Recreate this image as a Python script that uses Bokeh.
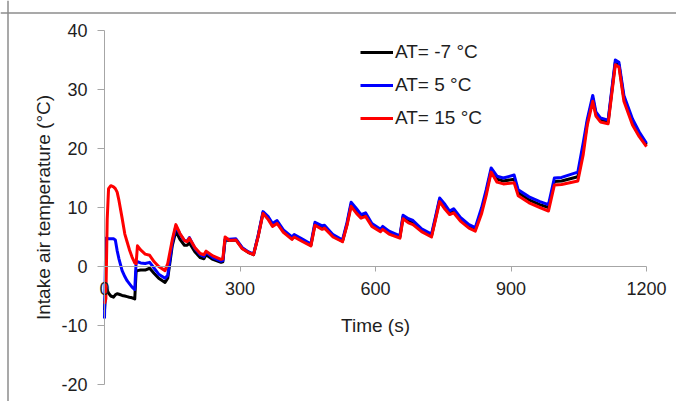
from bokeh.plotting import figure
from bokeh.models import Range1d, FixedTicker, Span
from bokeh.embed import file_html
from bokeh.resources import INLINE

time_s = [0, 3, 6, 9, 14, 20, 24, 28, 32, 39, 45, 50, 55, 61, 67, 70, 73,
          80, 90, 100, 110, 120, 134, 140, 150,
          158, 167, 177, 183, 188, 200, 212, 220, 225, 240, 258, 262, 267, 277, 291, 305, 318, 330, 340, 351,
          363, 372, 382, 396, 415, 420, 439, 457, 466, 482, 487, 506, 527, 537, 546, 558, 568, 578, 592, 611,
          616, 630, 654, 661, 673, 683, 702, 724, 733, 742, 754, 764, 773, 788, 807, 821, 835, 845, 856, 869,
          883, 907, 916, 940, 964, 983, 996, 1012, 1048, 1060, 1069, 1081, 1088, 1098, 1115, 1131, 1139, 1150, 1169, 1184,
          1200]

at_minus7 = [-7.4, -3.6, -4.0, -4.5, -5.0, -5.2, -4.8, -4.6, -4.7, -4.9, -5.0, -5.1, -5.2, -5.3, -5.5, -0.8, -0.7,
             -0.6, -0.6, -0.3, -1.2, -2.0, -2.7, -2.0, 3.5,
             6.0, 4.6, 3.6, 3.6, 4.0, 2.5, 1.5, 1.3, 2.0, 1.2, 0.7, 0.8, 4.5, 4.4, 4.5, 3.1, 2.4, 2.0, 5.1, 9.1,
             8.1, 7.0, 7.5, 6.0, 4.8, 5.2, 4.4, 3.6, 7.2, 6.6, 6.7, 5.2, 4.3, 7.2, 10.5, 9.4, 8.5, 8.8, 7.0, 6.1,
             6.5, 5.7, 5.0, 8.4, 7.7, 7.4, 6.1, 5.2, 8.2, 11.3, 10.1, 9.1, 9.4, 8.0, 6.8, 6.3, 9.5, 12.5, 16.3, 14.8,
             14.5, 14.8, 12.5, 11.3, 10.5, 10.0, 14.4, 14.5, 15.2, 20.0, 24.5, 28.5, 25.8, 24.8, 24.5, 34.6, 34.2, 28.5, 24.5, 22.4,
             20.6]

at_5 = [-8.8, 4.8, 4.8, 4.7, 4.7, 4.7, 4.5, 2.7, 1.3, -0.7, -1.7, -2.4, -2.9, -3.5, -3.9, 0.7, 0.8,
        0.6, 0.5, 0.7, -0.3, -1.3, -2.0, -1.5, 4.0,
        6.8, 5.5, 4.4, 4.3, 4.9, 3.1, 2.0, 1.7, 2.4, 1.5, 0.9, 1.0, 4.6, 4.6, 4.7, 3.2, 2.5, 2.1, 5.2, 9.3,
        8.4, 7.3, 7.8, 6.2, 5.0, 5.4, 4.6, 3.8, 7.5, 6.9, 7.0, 5.4, 4.5, 7.5, 10.9, 9.8, 8.8, 9.1, 7.3, 6.3,
        6.8, 6.0, 5.2, 8.7, 8.1, 7.8, 6.4, 5.5, 8.5, 11.6, 10.5, 9.4, 9.8, 8.3, 7.1, 6.6, 10.0, 13.0, 16.7, 15.3,
        15.0, 15.5, 13.0, 11.8, 11.0, 10.5, 15.0, 15.1, 16.0, 21.0, 25.0, 29.0, 26.2, 25.2, 24.8, 35.0, 34.6, 29.0, 25.0, 22.8,
        20.9]

at_15 = [-6.3, -5.5, 8.0, 13.2, 13.7, 13.5, 13.2, 12.6, 11.2, 8.2, 5.5, 4.2, 2.9, 1.6, 0.6, 0.5, 3.5,
         2.8, 2.1, 1.9, 0.8, 0.0, -0.7, 0.5, 4.5,
         7.1, 5.6, 4.4, 4.2, 4.8, 3.2, 2.2, 2.0, 2.6, 1.8, 1.2, 1.3, 5.0, 4.4, 4.5, 3.0, 2.4, 2.0, 5.0, 9.0,
         7.9, 6.8, 7.3, 5.8, 4.6, 5.0, 4.2, 3.5, 7.0, 6.3, 6.5, 5.0, 4.2, 7.0, 10.2, 9.0, 8.2, 8.5, 6.8, 5.9,
         6.3, 5.5, 4.8, 8.1, 7.4, 7.1, 5.9, 5.0, 8.0, 11.0, 9.7, 8.8, 9.1, 7.7, 6.5, 6.0, 9.0, 12.0, 16.0, 14.3,
         14.0, 14.2, 12.0, 10.8, 10.0, 9.4, 13.8, 13.9, 14.5, 19.0, 24.0, 28.0, 25.5, 24.5, 24.2, 34.2, 33.8, 28.0, 24.0, 22.0,
         20.3]

series_labels = ["AT= -7 °C", "AT= 5 °C", "AT= 15 °C"]
series_colors = ["#000000", "#0000ff", "#ff0000"]

x_ticks = [0, 300, 600, 900, 1200]
y_ticks = [-20, -10, 0, 10, 20, 30, 40]
y_tick_labels = ["-20", "-10", "0", "10", "20", "30", "40"]

FONT = "Liberation Sans"
TEXT = "#1e1e1e"
AXIS = "#a6a6a6"

# layout in picture pixels; the canvas is placed at the picture's top-left corner
W, H = 676, 401
OX, OY = 0, 0
PX0, XS = 104.0, 542.0 / 1200.0   # picture x of t=0, px per second
PY0, YS = 266.0, 5.9              # picture y of T=0, px per degree
x_lo = (OX - PX0) / XS
x_hi = (OX + W - PX0) / XS
y_lo = (PY0 - (OY + H)) / YS
y_hi = (PY0 - OY) / YS

p = figure(width=W, height=H, output_backend="svg", toolbar_location=None,
           x_range=Range1d(x_lo, x_hi), y_range=Range1d(y_lo, y_hi),
           min_border_left=0, min_border_right=0, min_border_top=0, min_border_bottom=0)
p.outline_line_color = None
p.grid.visible = False
p.background_fill_color = "white"
p.border_fill_color = "white"

# outer picture frame (top and left edges)
p.add_layout(Span(location=(PY0 - 12.5) / YS, dimension="width", line_color="#8c8c8c", line_width=1.5))
p.add_layout(Span(location=(PX0 - 7.5) / -XS, dimension="height", line_color="#8c8c8c", line_width=1.5))

for ys, lab, col in zip([at_minus7, at_5, at_15], series_labels, series_colors):
    p.line(time_s, ys, line_color=col, line_width=3, legend_label=lab, line_join="round")

xa = p.xaxis[0]
xa.fixed_location = 0
xa.bounds = (0, 1200)
xa.ticker = FixedTicker(ticks=x_ticks)
xa.major_tick_out = 5
xa.major_tick_in = 0
xa.major_label_standoff = 10
xa.axis_label = "Time (s)"
xa.axis_label_standoff = 17

ya = p.yaxis[0]
ya.fixed_location = 0
ya.bounds = (-20, 40)
ya.ticker = FixedTicker(ticks=y_ticks)
ya.major_label_overrides = dict(zip(y_ticks, y_tick_labels))
ya.major_tick_out = 7
ya.major_tick_in = 0
ya.major_label_standoff = 10
ya.axis_label = "Intake air temperature (°C)"
ya.axis_label_standoff = 4

for ax in (xa, ya):
    ax.minor_tick_out = 0
    ax.minor_tick_in = 0
    ax.axis_line_color = AXIS
    ax.major_tick_line_color = AXIS
    ax.major_label_text_font = FONT
    ax.major_label_text_font_size = "18px"
    ax.major_label_text_color = TEXT
    ax.axis_label_text_font = FONT
    ax.axis_label_text_font_size = "19px"
    ax.axis_label_text_font_style = "normal"
    ax.axis_label_text_color = TEXT

# legend position measured from the canvas' bottom-left corner
lg = p.legend[0]
lg.location = (360 - OX, OY + H - 129)
lg.padding = 0
lg.margin = 0
lg.spacing = 11
lg.glyph_width = 33
lg.glyph_height = 20
lg.label_height = 20
lg.label_standoff = 2
lg.border_line_color = None
lg.background_fill_alpha = 0
lg.label_text_font = FONT
lg.label_text_font_size = "19px"
lg.label_text_color = TEXT

open("out.html", "w").write(file_html(p, INLINE))
